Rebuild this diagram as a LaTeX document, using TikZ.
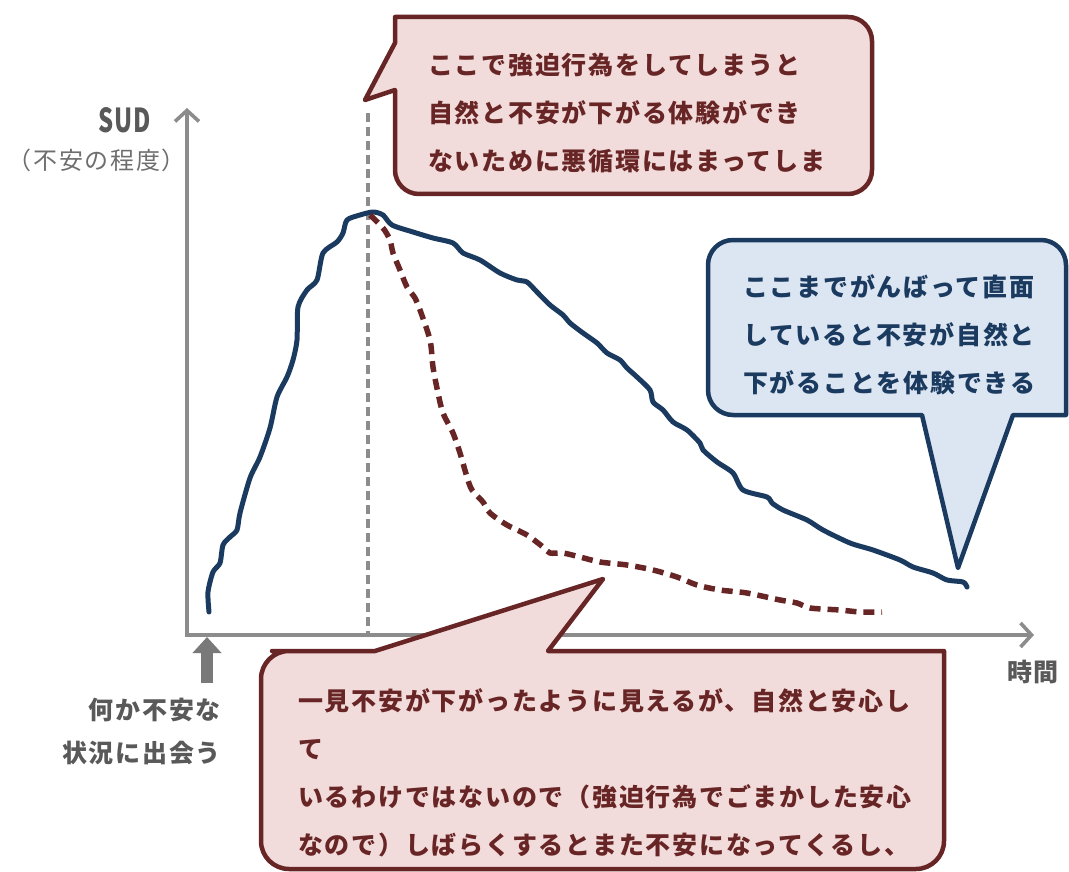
\documentclass[tikz,border=0pt]{standalone}
\usepackage{fontspec}
\setmainfont{Noto Sans CJK JP}[LetterSpace=7]
\newfontfamily\narrowfont{Noto Sans CJK JP}[FakeStretch=0.72, LetterSpace=3]
\usetikzlibrary{arrows.meta}
\definecolor{axisgray}{HTML}{8C8C8C}
\definecolor{labelgray}{HTML}{595959}
\definecolor{softgray}{HTML}{6E6E6E}
\definecolor{redline}{HTML}{682525}
\definecolor{redfill}{HTML}{F2DCDB}
\definecolor{blueline}{HTML}{1B3A5F}
\definecolor{bluefill}{HTML}{DCE6F2}
\tikzstyle{axis} = [draw=axisgray, line width=3.6pt, {Straight Barb[length=11pt,width=24pt]}-{Straight Barb[length=11pt,width=24pt]}]
\tikzstyle{guide} = [draw=axisgray, line width=3.4pt, dash pattern=on 9pt off 5pt]
\tikzstyle{facing} = [draw=blueline, line width=5pt, line cap=round, line join=round]
\tikzstyle{ritual} = [draw=redline, line width=5.5pt, dash pattern=on 11pt off 7pt]
\tikzstyle{redballoon} = [draw=redline, fill=redfill, line width=4.5pt, line join=round]
\tikzstyle{blueballoon} = [draw=blueline, fill=bluefill, line width=4.5pt, line join=round]
\tikzstyle{balloontext} = [inner sep=0pt, anchor=west, align=left, font=\fontsize{25}{48}\selectfont\bfseries]
\tikzstyle{label} = [inner sep=0pt, text=labelgray, font=\fontsize{25}{43}\selectfont\bfseries]

\begin{document}
\begin{tikzpicture}[x=1pt, y=-1pt]
	\useasboundingbox (0,0) rectangle (1069,872);

	\coordinate (origin) at (187,635);
	\coordinate (yend) at (187,108);
	\coordinate (xend) at (1034,635);
	\coordinate (peaktop) at (368,113);
	\coordinate (peakfoot) at (368,635);

	\path [axis] (yend) -- (origin) -- (xend);
	\path [guide] (peaktop) -- (peakfoot);

	\path [facing] plot [smooth, tension=0.45] coordinates {
		(209,612) (208,592) (213,572) (220,563) (223,545) (230,537) (237,530) (240,513)
		(250,478) (260,457) (270,428) (277,397) (287,377) (293,360) (297,340) (298,307)
		(307,290) (317,280) (323,253) (337,242) (343,233) (347,220) (360,215) (373,212)
		(383,215) (392,225) (413,232) (433,238) (453,243) (463,253) (480,260) (500,273)
		(517,280) (527,282) (537,292) (550,305) (563,315) (570,323) (583,333) (597,343)
		(607,353) (620,360) (627,368) (637,377) (650,390) (653,402) (663,410) (673,422)
		(687,430) (700,443) (703,450) (717,462) (733,473) (743,490) (767,497) (772,503)
		(783,510) (807,520) (823,530) (850,543) (873,550) (900,560) (913,567) (933,573)
		(947,580) (963,582) (967,587)};

	\path [ritual] plot [smooth, tension=0.5] coordinates {
		(370,215) (383,228) (390,240) (393,253) (400,270) (407,287) (415,298) (420,310)
		(430,340) (433,367) (438,393) (443,413) (453,433) (460,453) (467,477) (472,490)
		(483,502) (490,513) (507,525) (527,535) (543,547) (550,553) (563,553) (580,557)
		(600,562) (627,565) (653,570) (677,577) (697,585) (720,590) (747,593) (780,600)
		(797,603) (810,608) (840,610) (860,612) (882,612)};

	\path [redballoon] (395,120) -- (395,90) -- (365,100) -- (395,43) -- (395,17)
		[rounded corners=24pt] -- (872,17) -- (872,194) -- (395,194) -- cycle;
	\path [blueballoon] (860,415) -- (922,415) -- (958,568) -- (1013,415) -- (1066,415)
		[rounded corners=25pt] -- (1066,240) -- (708,240) -- (708,415) -- cycle;
	\path [redballoon] (300,651) -- (375,651) -- (603,579) -- (548,651) -- (944,651)
		[rounded corners=28pt] -- (944,869) -- (261,869) -- (261,651) -- cycle;

	\node [balloontext, text=redline] (habit) at (428,112.5) {ここで強迫行為をしてしまうと\\自然と不安が下がる体験ができ\\ないために悪循環にはまってしま};
	\node [balloontext, text=blueline] (exposure) at (743,335) {ここまでがんばって直面\\していると不安が自然と\\下がることを体験できる};
	\node [balloontext, text=redline] (relief) at (298,772.5) {一見不安が下がったように見えるが、自然と安心し\\て\\いるわけではないので（強迫行為でごまかした安心\\なので）しばらくするとまた不安になってくるし、};

	\node [label, font=\fontsize{33}{34}\selectfont\narrowfont\bfseries] (sud) at (125,120) {SUD};
	\node [label, anchor=east, text=softgray, font=\fontsize{24}{30}\selectfont] (degree) at (186,160) {（不安の程度）};
	\node [label] (time) at (1033,672) {時間};
	\node [label, anchor=north east, align=right] (trigger) at (221,698) {何か不安な\\状況に出会う};

	\coordinate (trigbase) at (207,683);
	\coordinate (trigtip) at (207,637);
	\path [draw=gray!95!black, line width=12pt, -{Triangle[length=16pt,width=28pt]}] (trigbase) -- (trigtip);
\end{tikzpicture}
\end{document}
